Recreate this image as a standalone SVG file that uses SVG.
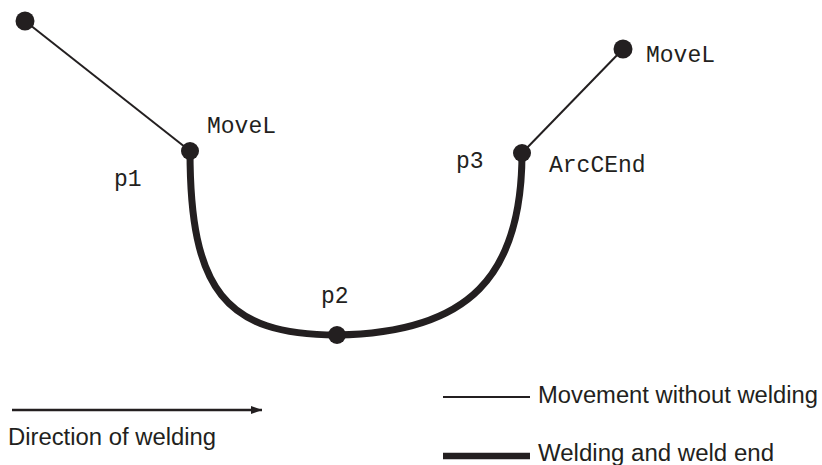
<svg xmlns="http://www.w3.org/2000/svg" width="822" height="465" viewBox="0 0 822 465">
<defs>
<style>
.thin{stroke:#231f20;stroke-width:2;fill:none}
.thick{stroke:#231f20;stroke-width:7;fill:none}
.dot{fill:#231f20}
.mono{font-family:"Liberation Mono","DejaVu Sans Mono",monospace;font-size:23px;fill:#231f20}
.sans{font-family:"Liberation Sans",Arial,sans-serif;font-size:23.5px;fill:#231f20}
</style>
<marker id="arrow" viewBox="0 0 11 8" refX="11" refY="4" markerWidth="11" markerHeight="8" markerUnits="userSpaceOnUse" orient="auto">
<path d="M0,0 L11,4 L0,8 Z" fill="#231f20"/>
</marker>
</defs>
<rect width="822" height="465" fill="#ffffff"/>
<g id="connectors">
<line class="thin" x1="25" y1="21" x2="190" y2="151"/>
<line class="thin" x1="623" y1="49" x2="522" y2="153"/>
<path class="thick" d="M190,151 C190,290 225,335 337,335 C470,333 522,275 522,153"/>
</g>
<g id="start"><circle class="dot" cx="25" cy="21" r="9.5"/></g>
<g id="p1"><circle class="dot" cx="190" cy="151" r="9"/>
<text class="mono" x="207" y="133">MoveL</text>
<text class="mono" x="114" y="186">p1</text></g>
<g id="p2"><circle class="dot" cx="337" cy="335" r="9"/>
<text class="mono" x="321" y="303">p2</text></g>
<g id="p3"><circle class="dot" cx="522" cy="153" r="9"/>
<text class="mono" x="456" y="168">p3</text>
<text class="mono" x="549" y="172">ArcCEnd</text></g>
<g id="end"><circle class="dot" cx="623" cy="49" r="9.5"/>
<text class="mono" x="646" y="62">MoveL</text></g>
<g id="legend">
<line x1="12" y1="410" x2="262" y2="410" stroke="#231f20" stroke-width="2.5" marker-end="url(#arrow)"/>
<text class="sans" x="8" y="445" textLength="208" lengthAdjust="spacingAndGlyphs">Direction of welding</text>
<line class="thin" x1="443" y1="397" x2="530" y2="397"/>
<text class="sans" x="538" y="403" textLength="280" lengthAdjust="spacingAndGlyphs">Movement without welding</text>
<line x1="443" y1="456" x2="530" y2="456" stroke="#231f20" stroke-width="6.5"/>
<text class="sans" x="538" y="461" textLength="236" lengthAdjust="spacingAndGlyphs">Welding and weld end</text>
</g>
</svg>
